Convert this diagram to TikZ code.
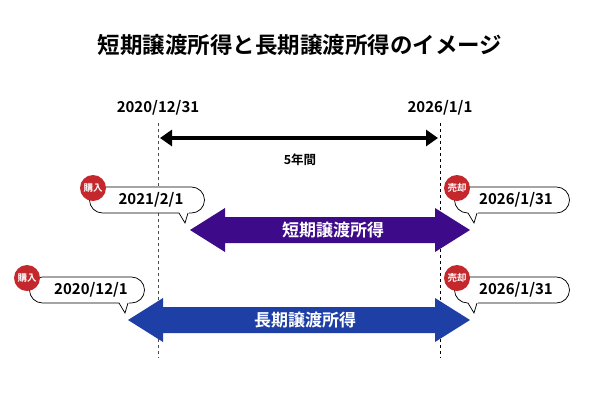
\documentclass[tikz,border=0pt]{standalone}
\usepackage{fontspec}
\setmainfont{Noto Sans CJK JP}[BoldFont={* Bold}]
\usetikzlibrary{arrows.meta,shapes.misc}
\definecolor{tanki}{RGB}{61,10,138}
\definecolor{choki}{RGB}{30,63,166}
\definecolor{badge}{RGB}{196,40,44}
\tikzset{
	every picture/.style={line width=0.75pt},
	date/.style={font=\fontsize{15}{15}\selectfont\bfseries},
	bubble/.style={draw, rounded rectangle, minimum width=115pt, minimum height=26pt, inner sep=0pt, fill=white, date},
	badgenode/.style={circle, fill=badge, text=white, minimum size=26pt, inner sep=0pt, font=\fontsize{9.5}{9.5}\selectfont\bfseries},
	band/.style={text=white, font=\fontsize{17}{17}\selectfont\bfseries}}
\begin{document}
\begin{tikzpicture}[x=1pt,y=-1pt]
	\useasboundingbox (0,0) rectangle (600,400);

	% Title
	\node (title) at (300,45) {\fontsize{22.5}{22.5}\selectfont\bfseries 短期譲渡所得と長期譲渡所得のイメージ};

	% period markers
	\node[date] (start) at (158,108) {2020/12/31};
	\node[date] (end) at (440,108) {2026/1/1};
	\coordinate (startbot) at (158,358);
	\coordinate (endbot) at (440,358);
	\draw[dashed, line width=0.8pt, gray!60!black] (start.south) ++(0,4) -- (startbot);
	\draw[dashed, line width=0.8pt, black] (end.south) ++(0,4) -- (endbot);
	\draw[line width=4pt, {Triangle[length=12pt,width=16pt]}-{Triangle[length=12pt,width=16pt]}] (160,138) -- (438,138);
	\node[font=\fontsize{12.5}{12.5}\selectfont\bfseries] (span) at (300,160) {5年間};

	% short term
	\fill[tanki] (190,230) -- (225,208) -- (225,217) -- (435,217) -- (435,208) -- (470,230) -- (435,252) -- (435,243) -- (225,243) -- (225,252) -- cycle;
	\node[band] (short) at (333,230) {短期譲渡所得};

	% long term
	\fill[choki] (128,320) -- (163,298) -- (163,307) -- (435,307) -- (435,298) -- (470,320) -- (435,342) -- (435,333) -- (163,333) -- (163,342) -- cycle;
	\node[band] (long) at (305,320) {長期譲渡所得};

	% bubbles
	\foreach \nm/\cx/\cy/\tx/\tl/\lab/\bx in {buyA/147/200/185/2021\slash 2\slash 1/購入/-54,
		sellA/512/200/474/2026\slash 1\slash 31/売却/-55,
		buyB/87/290/125/2020\slash 12\slash 1/購入/-60,
		sellB/512/290/474/2026\slash 1\slash 31/売却/-55}{
		\node[bubble] (\nm) at (\cx,\cy) {};
		\fill[white] (\tx-6,\cy+12) -- (\tx,\cy+23) -- (\tx+4,\cy+12) -- cycle;
		\draw (\tx-6,\cy+13) -- (\tx,\cy+23) -- (\tx+3,\cy+13);
		\node[date] at (\cx+4,\cy) {\tl};
		\node[badgenode] at (\cx+\bx,\cy-12) {\lab};
	}
\end{tikzpicture}
\end{document}
